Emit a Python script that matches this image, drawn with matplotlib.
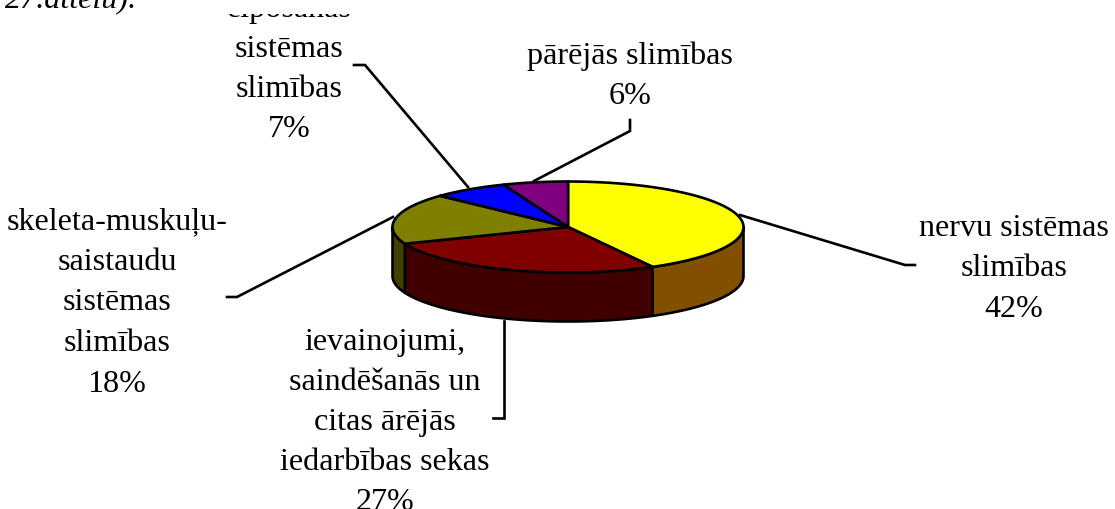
import matplotlib
matplotlib.use('Agg')
import matplotlib.pyplot as plt
from matplotlib.patches import Polygon, Rectangle
import numpy as np

plt.rcParams['font.family'] = ['Liberation Serif', 'DejaVu Serif']

# slices go clockwise from the top of the pie
values = [42, 27, 18, 7, 6]
top_colors = ['#ffff00', '#800000', '#808000', '#0000ff', '#800080']
side_colors = ['#805000', '#400000', '#404000', '#000080', '#400040']

label_lines = [
    ['nervu sistēmas', 'slimības', '42%'],
    ['ievainojumi,', 'saindēšanās un', 'citas ārējās', 'iedarbības sekas', '27%'],
    ['skeleta-muskuļu-', 'saistaudu', 'sistēmas', 'slimības', '18%'],
    ['elpošanas', 'sistēmas', 'slimības', '7%'],
    ['pārējās slimības', '6%'],
]
label_x = [1014, 385, 117, 289, 630]
label_y = [236, 350, 229, 17, 64]
label_step = [40.5, 40, 40.7, 40, 40]

leader_x = [[740, 905, 915], [504, 504, 493], [393, 237, 227], [468, 365, 354], [534, 630, 630]]
leader_y = [[216, 266, 266], [322, 419, 419], [218, 298, 298], [188, 66, 66], [182, 132, 121]]

caption = '27.attēlu).'

cx = 568
cy = 228
rx = 175.5
ry = 45.5
depth = 49
font_size = 23.1
lw = 1.9


def arc(a1, a2, shift=0):
    # angles in degrees, clockwise from the top
    t = np.radians(np.linspace(a1, a2, 100))
    return np.column_stack([cx + rx*np.sin(t), cy - ry*np.cos(t) + shift])


fig = plt.figure(figsize=(11.15, 5.10), dpi=100)
ax = fig.add_axes([0, 0, 1, 1])
ax.set_xlim(0, 1115)
ax.set_ylim(510, 0)
ax.axis('off')

for lx, ly in zip(leader_x, leader_y):
    ax.plot(lx, ly, color='black', lw=lw, zorder=1, solid_joinstyle='miter')

edges = np.concatenate([[0], np.cumsum(values)]) * 360.0 / sum(values)

# side wall, only the front half of the rim can be seen
for i in range(len(values)):
    a1 = max(edges[i], 90)
    a2 = min(edges[i+1], 270)
    if a1 >= a2:
        continue
    pts = np.vstack([arc(a1, a2), arc(a1, a2, depth)[::-1]])
    ax.add_patch(Polygon(pts, closed=True, facecolor=side_colors[i], edgecolor='black',
                         lw=lw, zorder=2, joinstyle='round'))

# top face
for i in range(len(values)):
    pts = np.vstack([[[cx, cy]], arc(edges[i], edges[i+1])])
    ax.add_patch(Polygon(pts, closed=True, facecolor=top_colors[i], edgecolor='black',
                         lw=lw, zorder=3, joinstyle='round'))

for lines, x, y, step in zip(label_lines, label_x, label_y, label_step):
    for j, line in enumerate(lines):
        ax.text(x, y + j*step, line, ha='center', va='baseline',
                fontsize=font_size, color='black', zorder=4)

# white strip hides the top of the highest label, as in the original
ax.add_patch(Rectangle((220, 0), 140, 15, facecolor='white', edgecolor='none', zorder=5))

ax.text(5, 7, caption, ha='left', va='baseline', fontsize=font_size,
        style='italic', color='black', clip_on=False)

fig.savefig('out.png', dpi=100)
